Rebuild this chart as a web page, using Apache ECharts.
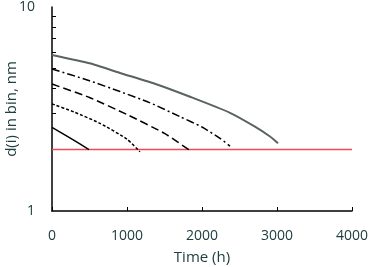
<!DOCTYPE html>
<html>
<head>
<meta charset="utf-8">
<script src="https://cdn.jsdelivr.net/npm/echarts@6/dist/echarts.min.js"></script>
<style>html,body{margin:0;padding:0;background:#fff}#c{width:371px;height:267px}</style>
</head>
<body>
<div id="c"></div>
<script>
const xTicks = [0, 1000, 2000, 3000, 4000];
const yMinorTicks = [2, 3, 4, 5, 6, 7, 8, 9];
const grayLine = [[0, 5.82], [500, 5.3], [907, 4.75], [1400, 4.17], [1840, 3.63], [2373, 3.03], [2700, 2.6], [2907, 2.32], [3013, 2.15]];
const dashDotLine = [[0, 4.97], [500, 4.35], [907, 3.85], [1300, 3.4], [1707, 2.9], [2000, 2.58], [2240, 2.27], [2373, 2.08]];
const longDashLine = [[0, 4.19], [500, 3.6], [1000, 2.97], [1500, 2.4], [1849, 1.97]];
const shortDashLine = [[0, 3.35], [300, 3.05], [640, 2.69], [1000, 2.25], [1173, 1.95]];
const solidLine = [[0, 2.57], [250, 2.27], [493, 2.0]];
const limitLine = [[0, 2], [4000, 2]];

const textColor = '#213f3f';
const font = 'Open Sans';
const chart = echarts.init(document.getElementById('c'));
const mk = (data, color, width, type) => ({
  type: 'line', data, showSymbol: false, smooth: 0.2, animation: false,
  lineStyle: { color, width, type }
});
chart.setOption({
  animation: false,
  grid: { left: 52, right: 19, top: 7, bottom: 56, outerBoundsMode: 'none', containLabel: false },
  xAxis: {
    type: 'value', min: 0, max: 4000, interval: 1000,
    name: 'Time (h)', nameLocation: 'middle', nameGap: 39, nameMoveOverlap: false,
    nameTextStyle: { color: textColor, fontSize: 15, fontFamily: font },
    axisLine: { show: true, lineStyle: { color: '#000', width: 1.5 } },
    axisTick: { show: true, inside: true, length: 4, lineStyle: { color: '#000' } },
    axisLabel: { color: textColor, fontSize: 14, fontFamily: font, margin: 18, formatter: v => String(v) },
    splitLine: { show: false }
  },
  yAxis: {
    type: 'log', logBase: 10, min: 1, max: 10,
    name: 'd(i) in bin, nm', nameLocation: 'middle', nameGap: 33, nameMoveOverlap: false,
    nameTextStyle: { color: textColor, fontSize: 15, fontFamily: font },
    axisLine: { show: true, lineStyle: { color: '#000', width: 1.5 } },
    axisTick: { show: true, inside: true, length: 4, lineStyle: { color: '#000' }, customValues: yMinorTicks },
    axisLabel: { color: textColor, fontSize: 14, fontFamily: font, margin: 17, formatter: v => String(v) },
    splitLine: { show: false }
  },
  series: [
    mk(limitLine, '#ef4a5a', 1.5, 'solid'),
    mk(grayLine, '#5b6262', 2, 'solid'),
    mk(dashDotLine, '#000', 1.5, [8, 3, 2, 3]),
    mk(longDashLine, '#000', 1.5, [8, 4]),
    mk(shortDashLine, '#000', 1.5, [3, 2]),
    mk(solidLine, '#000', 1.5, 'solid')
  ]
});
</script>
</body>
</html>
